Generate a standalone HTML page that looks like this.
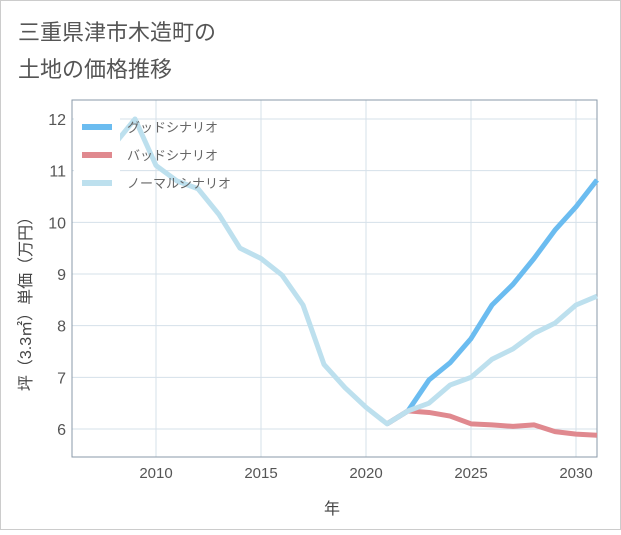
<!DOCTYPE html>
<html><head><meta charset="utf-8"><style>
body{margin:0;background:#fff;}
svg text{font-family:"Liberation Sans","Noto Sans CJK JP",sans-serif;}
</style></head><body>
<svg width="621" height="530" xmlns="http://www.w3.org/2000/svg">
<rect x="0.5" y="0.5" width="620" height="529" fill="#fff" stroke="#ccc"/>
<text x="18" y="40" font-size="22" fill="#555">三重県津市木造町の</text>
<text x="18" y="77" font-size="22" fill="#555">土地の価格推移</text>
<g id="grid"></g>
<rect x="72" y="100" width="525" height="357" fill="none" stroke="#8a9aa8"/>
<g id="series"></g>
<g id="axes"></g>
<text x="332" y="514" font-size="16" fill="#444" text-anchor="middle">年</text>
<text transform="translate(31,300) rotate(-90)" font-size="16" fill="#444" text-anchor="middle">坪（3.3㎡）単価（万円）</text>
<g>
<rect x="74" y="104" width="46" height="90" fill="#fff"/>
<line x1="82" y1="127" x2="112" y2="127" stroke="#6bbcf0" stroke-width="6"/>
<text x="127" y="132" font-size="13" fill="#666">グッドシナリオ</text>
<line x1="82" y1="155" x2="112" y2="155" stroke="#e0898f" stroke-width="6"/>
<text x="127" y="160" font-size="13" fill="#666">バッドシナリオ</text>
<line x1="82" y1="183" x2="112" y2="183" stroke="#bde0ee" stroke-width="6"/>
<text x="127" y="188" font-size="13" fill="#666">ノーマルシナリオ</text>
</g>
</svg>
<script>
const normalYears=[2008,2009,2010,2011,2012,2013,2014,2015,2016,2017,2018,2019,2020,2021,2022,2023,2024,2025,2026,2027,2028,2029,2030,2031];
const normalValues=[11.5,12.0,11.1,10.8,10.65,10.15,9.5,9.3,8.98,8.4,7.25,6.8,6.42,6.1,6.35,6.5,6.85,7.0,7.35,7.55,7.85,8.05,8.4,8.57];
const scenarioYears=[2021,2022,2023,2024,2025,2026,2027,2028,2029,2030,2031];
const goodValues=[6.1,6.35,6.95,7.28,7.75,8.4,8.8,9.3,9.85,10.3,10.82];
const badValues=[6.1,6.35,6.32,6.25,6.1,6.08,6.05,6.08,5.95,5.9,5.88];
const xTicks=[2010,2015,2020,2025,2030];
const yTicks=[6,7,8,9,10,11,12];
const NS="http://www.w3.org/2000/svg";
const xS=y=>156+(y-2010)*21;
const yS=v=>429-(v-6)*(310/6);
function mk(tag,attrs,parent){const e=document.createElementNS(NS,tag);for(const k in attrs)e.setAttribute(k,attrs[k]);parent.appendChild(e);return e;}
const grid=document.getElementById('grid'),axes=document.getElementById('axes'),series=document.getElementById('series');
xTicks.forEach(t=>{const l=mk('line',{x1:xS(t),x2:xS(t),y1:100,y2:457,stroke:'#d5e0ea'},grid);


const tx=mk('text',{x:xS(t),y:478,'font-size':15,fill:'#555','text-anchor':'middle'},axes);tx.textContent=t;

});
yTicks.forEach(t=>{const l=mk('line',{x1:72,x2:597,y1:yS(t),y2:yS(t),stroke:'#d5e0ea'},grid);


const tx=mk('text',{x:66,y:yS(t)+6,'font-size':16,fill:'#555','text-anchor':'end'},axes);tx.textContent=t;

});
function line(xs,vs,color,name){const p=mk('polyline',{points:xs.map((y,i)=>xS(y)+','+yS(vs[i])).join(' '),fill:'none',stroke:color,'stroke-width':5,'stroke-linejoin':'round'},series);

}
line(scenarioYears,goodValues,'#6bbcf0','good-scenario-line');
line(scenarioYears,badValues,'#e0898f','bad-scenario-line');
line(normalYears,normalValues,'#bde0ee','normal-scenario-line');
</script>
</body></html>
